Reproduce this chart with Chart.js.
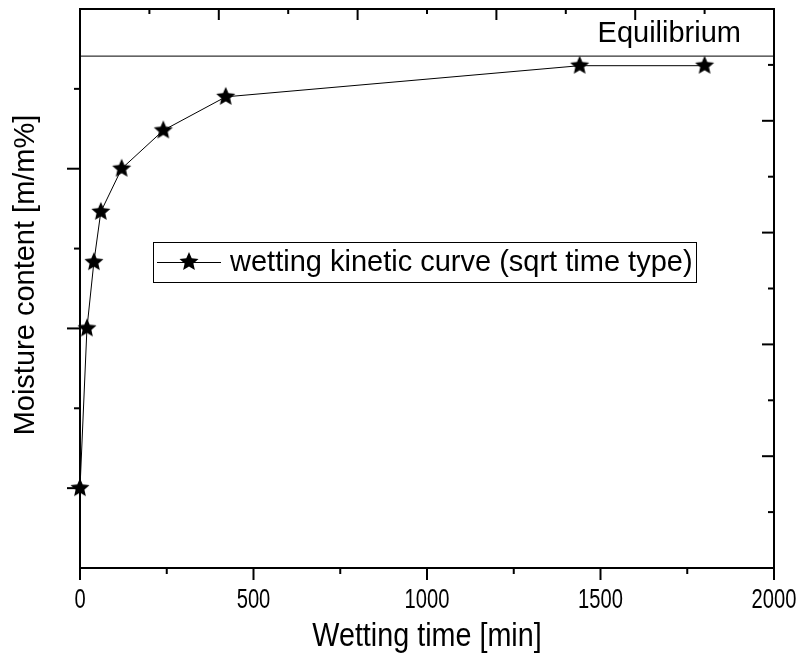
<!DOCTYPE html>
<html>
<head>
<meta charset="utf-8">
<script src="https://cdn.jsdelivr.net/npm/chart.js@4.4.1/dist/chart.umd.min.js"></script>
<style>
  body { margin: 0; background: #fff; }
  #wrap { width: 802px; height: 658px; }
</style>
</head>
<body>
<div id="wrap"><canvas id="myChart" width="802" height="658"></canvas></div>
<script>
// data (y in arbitrary units, axis has no labels)
const timeMin = [0, 20, 40, 60, 120, 240, 420, 1440, 1800];
const moisture = [1.0, 3.0, 3.83, 4.46, 5.0, 5.48, 5.9, 6.29, 6.29];
const equilibrium = 6.41;

const xTicks = [0, 500, 1000, 1500, 2000];
const xMinorTicks = [250, 750, 1250, 1750];
const topMajorTicks = [400, 800, 1200, 1600];
const topMinorTicks = [200, 600, 1000, 1400, 1800];
const leftMajorTicks = [1, 3, 5];
const leftMinorTicks = [2, 4, 6];
const rightMajorTicks = [2, 4, 6, 8];
const rightMinorTicks = [1, 3, 5, 7, 9];

const seriesLabel = 'wetting kinetic curve (sqrt time type)';
const xTitle = 'Wetting time [min]';
const yTitle = 'Moisture content [m/m%]';
const eqLabel = 'Equilibrium';

const SANS = "'Liberation Sans', Arial, sans-serif";

Chart.defaults.color = '#000';
Chart.defaults.font.family = SANS;

const makeStar = (r) => {
  const c = document.createElement('canvas');
  const s = Math.ceil(r * 2 + 2);
  c.width = s;
  c.height = s;
  const g = c.getContext('2d');
  g.beginPath();
  for (let i = 0; i < 10; i++) {
    const rad = i % 2 ? r * 0.46 : r;
    const a = -Math.PI / 2 + (i * Math.PI) / 5;
    g.lineTo(s / 2 + rad * Math.cos(a), s / 2 + rad * Math.sin(a));
  }
  g.closePath();
  g.fillStyle = '#000';
  g.fill();
  return c;
};
const star = makeStar(10);

// narrow text (the figure uses an Arial Narrow look)
const narrowText = (ctx, text, px, py, size, squeeze) => {
  ctx.save();
  ctx.translate(px, py);
  ctx.scale(squeeze, 1);
  ctx.font = `${size}px ${SANS}`;
  ctx.textAlign = 'center';
  ctx.textBaseline = 'middle';
  ctx.fillText(text, 0, 0);
  ctx.restore();
};

const framePlugin = {
  id: 'frame',
  afterDraw(chart) {
    const { ctx, chartArea: a, scales: { x, x2, y, y2 } } = chart;
    ctx.save();
    ctx.strokeStyle = '#000';
    ctx.fillStyle = '#000';
    ctx.lineWidth = 2;
    const tick = (x0, y0, x1, y1) => {
      ctx.beginPath();
      ctx.moveTo(x0, y0);
      ctx.lineTo(x1, y1);
      ctx.stroke();
    };
    xTicks.forEach((v) => { const p = x.getPixelForValue(v); tick(p, a.bottom, p, a.bottom + 12); });
    xMinorTicks.forEach((v) => { const p = x.getPixelForValue(v); tick(p, a.bottom, p, a.bottom + 6); });
    topMajorTicks.forEach((v) => { const p = x2.getPixelForValue(v); tick(p, a.top, p, a.top + 11); });
    topMinorTicks.forEach((v) => { const p = x2.getPixelForValue(v); tick(p, a.top, p, a.top + 5); });
    leftMajorTicks.forEach((v) => { const p = y.getPixelForValue(v); tick(a.left - 13, p, a.left, p); });
    leftMinorTicks.forEach((v) => { const p = y.getPixelForValue(v); tick(a.left - 6, p, a.left, p); });
    rightMajorTicks.forEach((v) => { const p = y2.getPixelForValue(v); tick(a.right - 12, p, a.right, p); });
    rightMinorTicks.forEach((v) => { const p = y2.getPixelForValue(v); tick(a.right - 6, p, a.right, p); });

    // x tick labels and title
    xTicks.forEach((v) => narrowText(ctx, String(v), x.getPixelForValue(v), a.bottom + 32, 28, 0.72));
    narrowText(ctx, xTitle, (a.left + a.right) / 2, a.bottom + 69, 34, 0.845);

    // equilibrium label
    ctx.font = `29px ${SANS}`;
    ctx.textAlign = 'right';
    ctx.textBaseline = 'alphabetic';
    ctx.fillText(eqLabel, a.right - 33, y.getPixelForValue(equilibrium) - 14);

    // y title
    ctx.save();
    ctx.translate(26, 275);
    ctx.rotate(-Math.PI / 2);
    ctx.textAlign = 'center';
    ctx.textBaseline = 'middle';
    ctx.font = `29px ${SANS}`;
    ctx.fillText(yTitle, 0, 0);
    ctx.restore();

    // legend box inside the plot
    ctx.lineWidth = 1;
    ctx.strokeRect(153.5, 242.5, 543, 40);
    tick(157, 262.5, 221, 262.5);
    ctx.drawImage(star, 189 - star.width / 2, 262 - star.height / 2);
    ctx.textAlign = 'left';
    ctx.textBaseline = 'middle';
    ctx.font = `29px ${SANS}`;
    ctx.fillText(seriesLabel, 230, 263);
    ctx.restore();
  },
};

const border = { display: true, color: '#000', width: 2 };
const noPad = (s) => { s.paddingLeft = 0; s.paddingRight = 0; s.paddingTop = 0; s.paddingBottom = 0; };

const chart = new Chart(document.getElementById('myChart'), {
  type: 'line',
  data: {
    datasets: [
      {
        label: seriesLabel,
        data: timeMin.map((t, i) => ({ x: t, y: moisture[i] })),
        borderColor: '#000',
        borderWidth: 1,
        pointStyle: star,
        pointRadius: 8,
        clip: false,
      },
      {
        label: eqLabel,
        data: [{ x: 0, y: equilibrium }, { x: 2000, y: equilibrium }],
        borderColor: '#000',
        borderWidth: 1,
        pointRadius: 0,
      },
    ],
  },
  options: {
    responsive: false,
    animation: false,
    layout: { padding: 0 },
    plugins: { legend: { display: false }, tooltip: { enabled: false } },
    scales: {
      x: {
        type: 'linear',
        position: 'bottom',
        min: 0,
        max: 2000,
        grid: { display: false },
        border,
        ticks: { display: false },
        afterFit: (s) => { s.height = 90; noPad(s); },
      },
      x2: {
        type: 'linear',
        position: 'top',
        min: 0,
        max: 2000,
        grid: { display: false },
        border,
        ticks: { display: false },
        afterFit: (s) => { s.height = 9; noPad(s); },
      },
      y: {
        type: 'linear',
        position: 'left',
        min: 0,
        max: 7,
        grid: { display: false },
        border,
        ticks: { display: false },
        afterFit: (s) => { s.width = 80; noPad(s); },
      },
      y2: {
        type: 'linear',
        position: 'right',
        min: 0,
        max: 10,
        grid: { display: false },
        border,
        ticks: { display: false },
        afterFit: (s) => { s.width = 28; noPad(s); },
      },
    },
  },
  plugins: [framePlugin],
});
</script>
</body>
</html>
